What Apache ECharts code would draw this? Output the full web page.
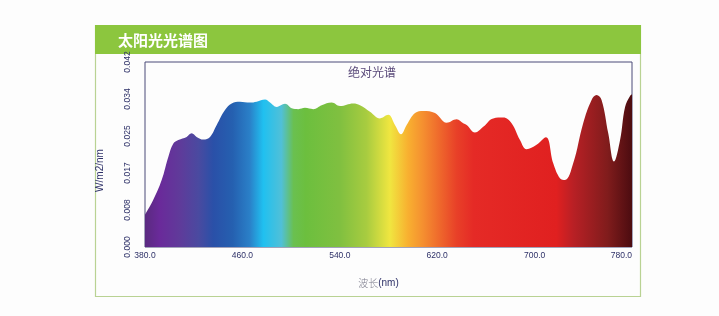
<!DOCTYPE html>
<html>
<head>
<meta charset="utf-8">
<script src="https://cdn.jsdelivr.net/npm/echarts@6/dist/echarts.min.js"></script>
<style>
html,body{margin:0;padding:0;background:#fdfdfd;}
#c{width:719px;height:316px;}
</style>
</head>
<body>
<div id="c"></div>
<script>
// Wavelength (nm) and spectral irradiance (W/m2/nm)
var wavelengths = [380, 386.8, 393.7, 399.2, 403.3, 407.4, 414.2, 418.3, 422.4, 427.9, 433.4, 438.9, 445.7, 451.2, 458, 466.2, 471.7, 478.6, 482.7, 488.2, 495, 500.5, 505.9, 511.4, 518.2, 525.1, 533.3, 540.2, 551.1, 556.6, 564.8, 573, 579.8, 585.3, 590.3, 594.9, 601.8, 608.6, 618.2, 627.8, 636, 641.4, 644.2, 651, 657.8, 666, 674.2, 681.1, 688, 693.4, 701.6, 709.3, 715.3, 720.8, 724.9, 731.7, 739.9, 746.8, 750.9, 755, 760.5, 765.2, 770.2, 774.3, 778.4, 780];
var irradiance = [0.0073, 0.0107, 0.0152, 0.0205, 0.0235, 0.0243, 0.0250, 0.0258, 0.0250, 0.0244, 0.0250, 0.0277, 0.0311, 0.0326, 0.0330, 0.0328, 0.0330, 0.0335, 0.0328, 0.0318, 0.0325, 0.0315, 0.0313, 0.0316, 0.0313, 0.0322, 0.0328, 0.0320, 0.0326, 0.0322, 0.0307, 0.0292, 0.0300, 0.0277, 0.0256, 0.0277, 0.0304, 0.0309, 0.0304, 0.0282, 0.0290, 0.0281, 0.0277, 0.0260, 0.0273, 0.0292, 0.0294, 0.0281, 0.0243, 0.0222, 0.0232, 0.0249, 0.0190, 0.0156, 0.0152, 0.0190, 0.0281, 0.0334, 0.0345, 0.0334, 0.0258, 0.0194, 0.0243, 0.0318, 0.0343, 0.0347];
var xTicks = [380, 460, 540, 620, 700, 780];
var yTickLabels = ['0.000', '0.008', '0.017', '0.025', '0.034', '0.042'];
var spectrumStops = [
  [0.00, '#5a2a80'], [0.03, '#6a2a9a'], [0.07, '#603a9a'], [0.11, '#4a4aa0'],
  [0.14, '#2a50a8'], [0.18, '#2560b0'], [0.215, '#2a80c8'], [0.243, '#20c0f0'],
  [0.28, '#50c0d8'], [0.305, '#6ac050'], [0.33, '#6cbf3e'], [0.40, '#80c040'],
  [0.455, '#a8cc40'], [0.503, '#f0e640'], [0.54, '#f8b030'], [0.57, '#f59030'],
  [0.64, '#e84028'], [0.675, '#e52a26'], [0.845, '#e02020'], [0.88, '#b82025'],
  [0.95, '#801c1c'], [1.00, '#4c0c10']
];

var seriesData = wavelengths.map(function (w, i) { return [w, irradiance[i]]; });
var grad = new echarts.graphic.LinearGradient(0, 0, 1, 0,
  spectrumStops.map(function (s) { return { offset: s[0], color: s[1] }; }));

var chart = echarts.init(document.getElementById('c'));
chart.setOption({
  backgroundColor: '#fdfdfd',
  animation: false,
  graphic: [
    { type: 'rect', shape: { x: 95.5, y: 25.5, width: 545, height: 271 },
      style: { fill: '#fdfdfd', stroke: '#b9d293', lineWidth: 1.2 }, z: -10 },
    { type: 'rect', shape: { x: 95, y: 25, width: 546, height: 29 },
      style: { fill: '#8cc63e' }, z: -9 },
    { type: 'text', x: 118, y: 40,
      style: { text: '太阳光光谱图', fill: '#ffffff', font: 'bold 15px "Noto Sans CJK SC"', textVerticalAlign: 'middle' }, z: 10 }
  ],
  title: {
    text: '绝对光谱', left: 367, top: 61, textAlign: 'center',
    textStyle: { color: '#5a4a7a', fontSize: 12, fontWeight: 'normal', fontFamily: '"Noto Sans CJK SC"' }
  },
  grid: { left: 145, right: 87, top: 62, bottom: 69, show: true, borderColor: '#4a4a78', borderWidth: 1, backgroundColor: 'transparent' },
  xAxis: {
    type: 'value', min: 380, max: 780, interval: 80,
    axisLine: { show: false }, axisTick: { show: false }, splitLine: { show: false },
    axisLabel: { color: '#2e3168', fontSize: 8.5, fontFamily: 'Arial, "Liberation Sans"', margin: 4, alignMaxLabel: 'right',
      formatter: function (v) { var i = xTicks.indexOf(v); return i >= 0 ? xTicks[i].toFixed(1) : ''; } },
    name: '{a|波长}{b|(nm)}', nameLocation: 'middle', nameGap: 31,
    nameTextStyle: { padding: [0, 20, 0, 0], rich: {
      a: { fontFamily: '"Noto Sans CJK SC"', fontSize: 10, color: '#7a7a8a', fontWeight: 300 },
      b: { fontFamily: 'Arial, "Liberation Sans"', fontSize: 10, color: '#2e3168' } } }
  },
  yAxis: {
    type: 'value', min: 0, max: 0.042, interval: 0.0084,
    axisLine: { show: false }, axisTick: { show: false }, splitLine: { show: false },
    axisLabel: { color: '#2e3168', fontSize: 8.5, fontFamily: 'Arial, "Liberation Sans"', rotate: 90, margin: 13,
      formatter: function (v) { return yTickLabels[Math.round(v / 0.0084)]; } },
    name: 'W/m2/nm', nameLocation: 'middle', nameGap: 40, nameRotate: 90,
    nameTextStyle: { color: '#2e3168', fontSize: 10, fontFamily: 'Arial, "Liberation Sans"', padding: [0, 32, 0, 0] }
  },
  series: [{
    type: 'line', data: seriesData, smooth: 0.4, symbol: 'none',
    lineStyle: { width: 0 }, areaStyle: { color: grad, opacity: 1 }
  }]
});
</script>
</body>
</html>
